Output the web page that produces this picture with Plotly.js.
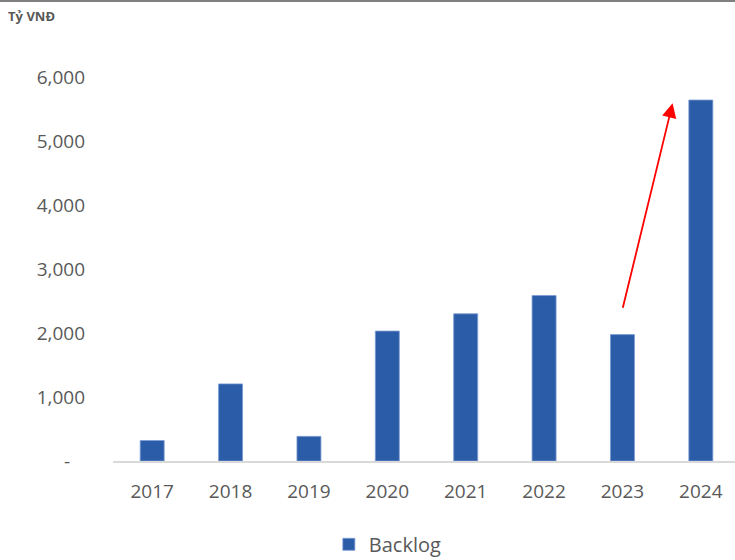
<!DOCTYPE html>
<html>
<head>
<meta charset="utf-8">
<script src="https://cdn.plot.ly/plotly-3.0.1.min.js"></script>
<style>
  html, body { margin: 0; padding: 0; background: #ffffff; overflow: hidden; }
  #chart { width: 735px; height: 560px; }
</style>
</head>
<body>
<div id="chart"></div>
<script>
// Data
const years = ['2017', '2018', '2019', '2020', '2021', '2022', '2023', '2024'];
const backlog = [320, 1205, 385, 2030, 2300, 2585, 1975, 5640];
const seriesName = 'Backlog';
const unitLabel = 'Tỷ VNĐ';
const yTickVals = [0, 1000, 2000, 3000, 4000, 5000, 6000];
const yTickText = ['-\u00a0\u00a0\u00a0', '1,000', '2,000', '3,000', '4,000', '5,000', '6,000'];

// Arrow annotation (from 2023 toward 2024)
const arrowTail = { x: 6, y: 2370 };
const arrowTip = { x: 6.64, y: 5590 };

const trace = {
  type: 'bar',
  x: years.map((_, i) => i),
  y: backlog,
  name: seriesName,
  marker: { color: '#2b5ca8', line: { color: '#7b9bd2', width: 0.8 } },
  hoverinfo: 'x+y'
};

const layout = {
  width: 735,
  height: 560,
  margin: { l: 113, r: 0, t: 77, b: 99, autoexpand: false },
  paper_bgcolor: '#ffffff',
  plot_bgcolor: '#ffffff',
  font: { family: 'Open Sans, sans-serif', color: '#595959' },
  bargap: 0.694,
  title: {
    text: '<b>' + unitLabel + '</b>',
    x: 0.011, xanchor: 'left', xref: 'container',
    y: 0.97, yanchor: 'middle', yref: 'container',
    font: { size: 13, color: '#595959', family: 'Open Sans, sans-serif' }
  },
  xaxis: {
    type: 'linear',
    range: [-0.5, 7.436],
    tickvals: years.map((_, i) => i),
    ticktext: years,
    showline: true, linecolor: '#d9d9d9', linewidth: 2,
    showgrid: false, zeroline: false, ticks: '',
    ticklabelstandoff: 12,
    tickfont: { size: 19, color: '#595959' },
    fixedrange: true
  },
  yaxis: {
    range: [0, 6000],
    tickvals: yTickVals,
    ticktext: yTickText,
    showline: false, showgrid: false, zeroline: false, ticks: '',
    ticklabelstandoff: 27,
    tickfont: { size: 19, color: '#595959' },
    fixedrange: true
  },
  showlegend: true,
  legend: {
    orientation: 'h',
    x: 0.347, xanchor: 'left',
    y: -0.217, yanchor: 'middle',
    font: { size: 20, color: '#595959' },
    itemwidth: 30
  },
  annotations: [{
    x: arrowTip.x, y: arrowTip.y, xref: 'x', yref: 'y',
    ax: arrowTail.x, ay: arrowTail.y, axref: 'x', ayref: 'y',
    text: '', showarrow: true,
    arrowhead: 2, arrowsize: 1.6, arrowwidth: 1.8, arrowcolor: '#ff0000'
  }],
  shapes: [{
    type: 'line', xref: 'paper', yref: 'paper',
    x0: -0.2, x1: 1.1, y0: 1.198, y1: 1.198,
    line: { color: '#7f7f7f', width: 2 }
  }]
};

Plotly.newPlot('chart', [trace], layout, { displayModeBar: false, staticPlot: true });
</script>
</body>
</html>
